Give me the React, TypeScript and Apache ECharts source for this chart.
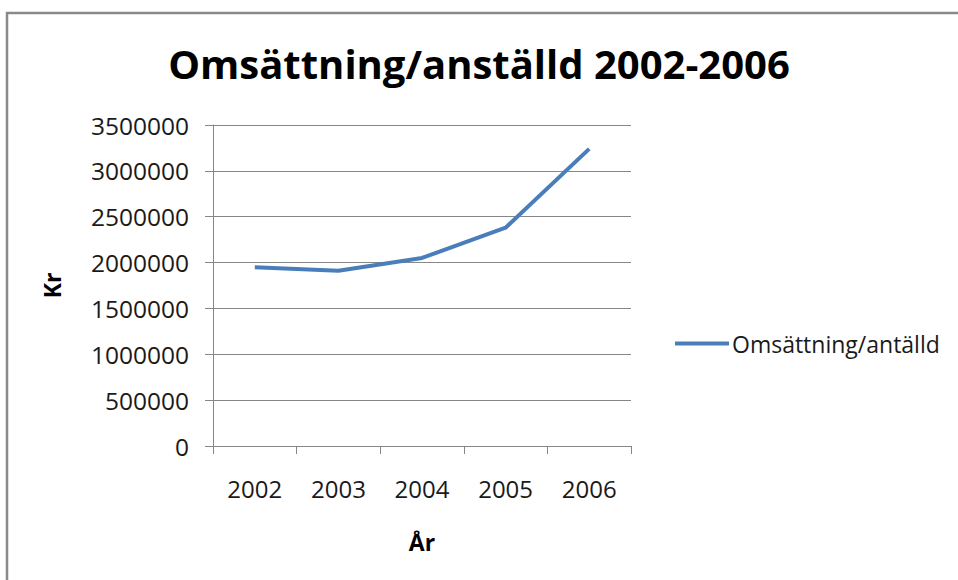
import React, { useEffect, useRef } from "react";
import * as echarts from "echarts";

const years = ["2002", "2003", "2004", "2005", "2006"];
const values = [1950000, 1910000, 2050000, 2380000, 3240000];
const titleText = "Omsättning/anställd 2002-2006";
const seriesName = "Omsättning/antälld";
const yName = "Kr";
const xName = "År";

const FONT = "'Open Sans', 'Noto Sans', sans-serif";
const GRID_COLOR = "#878787";

export default function App() {
  const ref = useRef<HTMLDivElement>(null);
  useEffect(() => {
    if (!ref.current) return;
    const chart = echarts.init(ref.current, undefined, { renderer: "svg" });
    chart.setOption({
      animation: false,
      backgroundColor: "#ffffff",
      textStyle: { fontFamily: FONT },
      title: {
        text: titleText,
        left: "center",
        top: 38,
        textStyle: { fontFamily: FONT, fontSize: 40, fontWeight: "bold", color: "#000" },
      },
      graphic: [
        {
          type: "rect",
          shape: { x: 7, y: 13, width: 1200, height: 1000 },
          style: { fill: "none", stroke: "#8a8a8a", lineWidth: 2.5 },
          silent: true,
        },
      ],
      legend: {
        left: 670,
        top: 327,
        icon: "rect",
        itemWidth: 54,
        itemHeight: 4,
        textStyle: { fontFamily: FONT, fontSize: 23, color: "#1a1a1a", padding: [0, 0, 0, -2] },
        data: [seriesName],
      },
      grid: { left: 213, top: 125, width: 418, height: 321, containLabel: false },
      xAxis: {
        type: "category",
        data: years,
        boundaryGap: true,
        name: xName,
        nameLocation: "middle",
        nameGap: 84,
        nameTextStyle: { fontFamily: FONT, fontSize: 23, fontWeight: "bold", color: "#000" },
        axisLine: { show: true, lineStyle: { color: GRID_COLOR, width: 1 } },
        axisTick: { show: true, alignWithLabel: false, length: 8, lineStyle: { color: GRID_COLOR } },
        axisLabel: { fontFamily: FONT, fontSize: 24, color: "#1a1a1a", margin: 30 },
      },
      yAxis: {
        type: "value",
        min: 0,
        max: 3500000,
        interval: 500000,
        name: yName,
        nameLocation: "middle",
        nameGap: 150,
        nameRotate: 90,
        nameTextStyle: { fontFamily: FONT, fontSize: 23, fontWeight: "bold", color: "#000" },
        axisLine: { show: true, lineStyle: { color: GRID_COLOR, width: 1 } },
        axisTick: { show: true, length: 8, lineStyle: { color: GRID_COLOR } },
        splitLine: { show: true, lineStyle: { color: GRID_COLOR, width: 1 } },
        axisLabel: {
          fontFamily: FONT,
          fontSize: 24.5,
          color: "#1a1a1a",
          margin: 24,
          formatter: (v: number) => String(v),
        },
      },
      series: [
        {
          name: seriesName,
          type: "line",
          data: values,
          symbol: "none",
          lineStyle: { color: "#4a7ebb", width: 4 },
          itemStyle: { color: "#4a7ebb" },
        },
      ],
    });
    return () => chart.dispose();
  }, []);
  return (
    <div
      ref={ref}
      style={{ position: "fixed", left: 0, top: 0, width: 958, height: 580, background: "#fff" }}
    />
  );
}
